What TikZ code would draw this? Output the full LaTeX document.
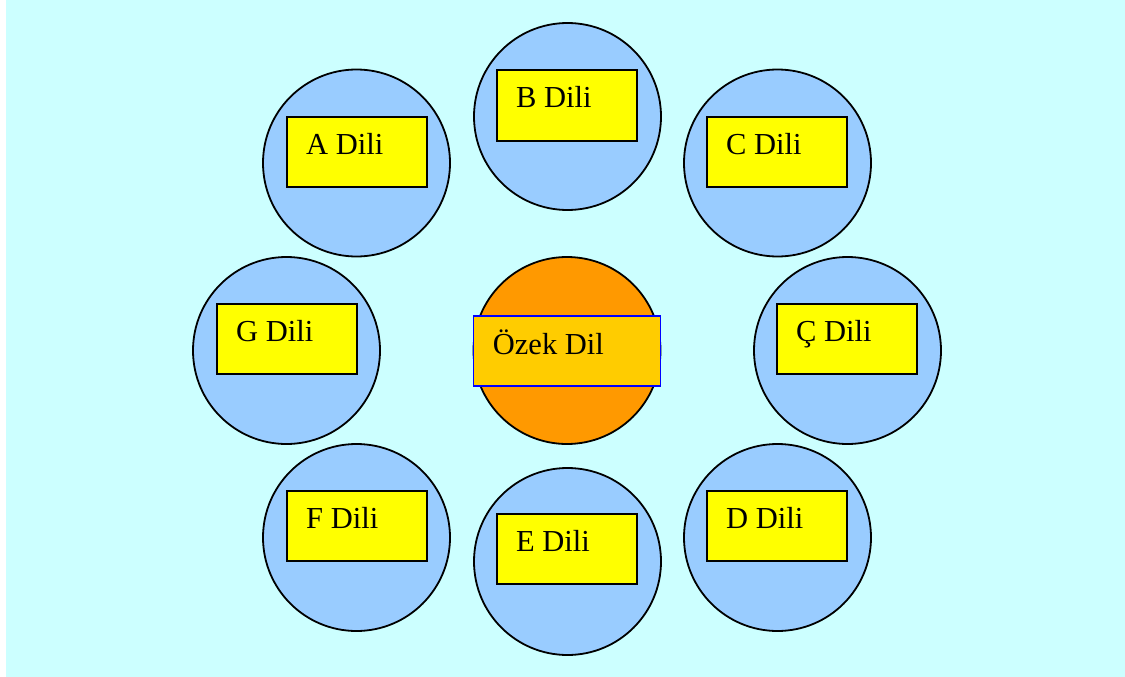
\documentclass[tikz,border=0pt]{standalone}
\usepackage{fontspec}
\setmainfont{Liberation Serif}
\definecolor{bgcyan}{HTML}{CCFFFF}
\definecolor{lightblue}{HTML}{99CCFF}
\definecolor{orangefill}{HTML}{FF9900}
\definecolor{goldfill}{HTML}{FFCC00}
\definecolor{boxyellow}{HTML}{FFFF00}
\definecolor{boxblue}{HTML}{0000FF}
\begin{document}
\begin{tikzpicture}[x=1pt,y=-1pt,
  langcircle/.style={circle,draw=black,line width=1.8pt,fill=lightblue,minimum size=187pt,inner sep=0pt},
  corecircle/.style={langcircle,fill=orangefill},
  langbox/.style={rectangle,draw=black,line width=2pt,fill=boxyellow,minimum width=140pt,minimum height=70pt,inner sep=0pt},
  corebox/.style={langbox,draw=boxblue,line width=1.6pt,fill=goldfill,minimum width=187pt},
  langtext/.style={anchor=base west,inner sep=0pt,font=\fontsize{30.5}{36}\selectfont}
]
\useasboundingbox (0,0) rectangle (1125,677);
\fill[white] (0,0) rectangle (1125,677);
\fill[bgcyan] (6,0) rectangle (1125,677);

% outer circles of languages
\node[langcircle] (cA) at (356.5,163) {};
\node[langcircle] (cB) at (567.5,116.5) {};
\node[langcircle] (cC) at (777.5,163) {};
\node[langcircle] (cG) at (286.5,350.5) {};
\node[langcircle] (cCc) at (847.5,350.5) {};
\node[langcircle] (cF) at (356.5,537.5) {};
\node[langcircle] (cE) at (567.5,561.5) {};
\node[langcircle] (cD) at (777.5,537.5) {};
\node[corecircle] (cO) at (567,350.5) {};

% label boxes
\node[langbox] (bA) at (357,152) {};
\node[langbox] (bB) at (567,105.5) {};
\node[langbox] (bC) at (777,152) {};
\node[langbox] (bG) at (287,339) {};
\node[langbox] (bCc) at (847,339) {};
\node[langbox] (bF) at (357,526) {};
\node[langbox] (bE) at (567,549) {};
\node[langbox] (bD) at (777,526) {};
\node[corebox] (bO) at (567,351) {};

% labels
\node[langtext] (tA) at ([xshift=20pt,yshift=-38pt]bA.north west) {A Dili};
\node[langtext] (tB) at ([xshift=20pt,yshift=-38pt]bB.north west) {B Dili};
\node[langtext] (tC) at ([xshift=20pt,yshift=-38pt]bC.north west) {C Dili};
\node[langtext] (tG) at ([xshift=20pt,yshift=-38pt]bG.north west) {G Dili};
\node[langtext] (tCc) at ([xshift=20pt,yshift=-38pt]bCc.north west) {Ç Dili};
\node[langtext] (tF) at ([xshift=20pt,yshift=-38pt]bF.north west) {F Dili};
\node[langtext] (tE) at ([xshift=20pt,yshift=-38pt]bE.north west) {E Dili};
\node[langtext] (tD) at ([xshift=20pt,yshift=-38pt]bD.north west) {D Dili};
\node[langtext] (tO) at ([xshift=20pt,yshift=-39pt]bO.north west) {Özek Dil};
\end{tikzpicture}
\end{document}
